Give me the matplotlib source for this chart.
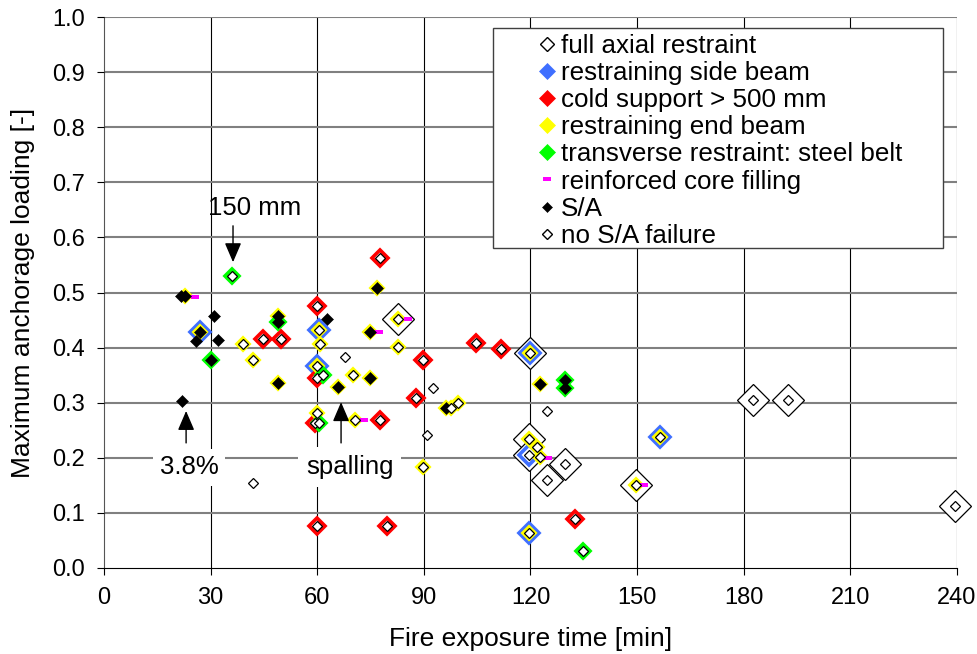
import matplotlib
matplotlib.use("Agg")
import matplotlib.pyplot as plt
from matplotlib.lines import Line2D
from matplotlib.patches import Rectangle

plt.rcParams['font.family'] = ['Liberation Sans', 'DejaVu Sans']
plt.rcParams['font.size'] = 17

# ---------------- data (fire exposure time [min], max anchorage loading [-]) ----
full_axial_x = [82.7, 119.9, 119.7, 119.6, 129.7, 124.7, 149.7, 182.6, 192.5, 239.4]
full_axial_y = [0.452, 0.390, 0.235, 0.205, 0.189, 0.160, 0.151, 0.305, 0.305, 0.113]

side_beam_x = [27.0, 60.5, 59.8, 119.9, 119.6, 156.4, 119.6]
side_beam_y = [0.428, 0.432, 0.366, 0.390, 0.205, 0.238, 0.064]

cold_support_x = [44.7, 49.8, 59.9, 77.7, 59.8, 59.3, 77.7, 87.8, 89.8, 104.7, 111.7, 59.9, 79.6, 132.5]
cold_support_y = [0.415, 0.415, 0.476, 0.562, 0.345, 0.263, 0.269, 0.308, 0.377, 0.408, 0.397, 0.076, 0.076, 0.089]

end_beam_x = [22.8, 27.0, 39.1, 41.9, 49.0, 49.0, 60.5, 60.8, 59.8, 59.9, 76.8, 74.8, 82.7, 82.7,
              65.8, 70.1, 74.8, 70.6, 96.2, 97.6, 99.6, 89.8, 119.9, 122.7, 119.7, 121.7, 122.7,
              149.7, 156.4, 119.6]
end_beam_y = [0.494, 0.428, 0.406, 0.377, 0.457, 0.336, 0.432, 0.406, 0.366, 0.281, 0.508, 0.428, 0.452, 0.401,
              0.329, 0.350, 0.345, 0.269, 0.290, 0.290, 0.299, 0.183, 0.390, 0.334, 0.235, 0.220, 0.202,
              0.151, 0.238, 0.064]

steel_belt_x = [36.0, 30.1, 49.0, 61.6, 60.5, 129.7, 129.7, 134.8]
steel_belt_y = [0.530, 0.377, 0.446, 0.351, 0.263, 0.341, 0.327, 0.031]

core_fill_x = [25.6, 85.5, 77.4, 73.2, 124.9, 151.9]
core_fill_y = [0.492, 0.452, 0.428, 0.269, 0.200, 0.151]

sa_x = [21.7, 22.8, 31.0, 27.0, 25.9, 32.0, 30.1, 21.9, 49.0, 49.0, 49.0, 62.7, 76.8, 74.8,
        65.8, 74.8, 96.2, 122.7, 129.7, 129.7]
sa_y = [0.494, 0.494, 0.457, 0.428, 0.412, 0.413, 0.377, 0.303, 0.457, 0.446, 0.336, 0.452, 0.508, 0.428,
        0.329, 0.345, 0.290, 0.334, 0.341, 0.327]

no_sa_x = [36.0, 39.1, 41.9, 44.7, 49.8, 41.9, 59.9, 77.7, 60.5, 60.8, 59.8, 59.8, 61.6, 67.8, 70.1,
           59.9, 59.3, 60.5, 70.6, 77.7, 82.7, 82.7, 87.8, 89.8, 92.6, 90.9, 89.8, 97.6, 99.6,
           59.9, 79.6, 104.7, 111.7, 119.9, 124.6, 119.7, 119.6, 121.7, 122.7, 129.7, 124.7,
           149.7, 156.4, 132.5, 134.8, 119.6, 182.6, 192.5, 239.4]
no_sa_y = [0.530, 0.406, 0.377, 0.415, 0.415, 0.154, 0.476, 0.562, 0.432, 0.406, 0.366, 0.345, 0.351, 0.383, 0.350,
           0.281, 0.263, 0.263, 0.269, 0.269, 0.452, 0.401, 0.308, 0.377, 0.327, 0.241, 0.183, 0.290, 0.299,
           0.076, 0.076, 0.408, 0.397, 0.390, 0.285, 0.235, 0.205, 0.220, 0.202, 0.189, 0.160,
           0.151, 0.238, 0.089, 0.031, 0.064, 0.305, 0.305, 0.113]

x_ticks = [0, 30, 60, 90, 120, 150, 180, 210, 240]
y_ticks = [0.0, 0.1, 0.2, 0.3, 0.4, 0.5, 0.6, 0.7, 0.8, 0.9, 1.0]
y_tick_labels = ["0.0", "0.1", "0.2", "0.3", "0.4", "0.5", "0.6", "0.7", "0.8", "0.9", "1.0"]

legend_labels = ["full axial restraint", "restraining side beam", "cold support > 500 mm",
                 "restraining end beam", "transverse restraint: steel belt",
                 "reinforced core filling", "S/A", "no S/A failure"]

BLUE = "#3F6FFF"
RED = "#FF0000"
YELLOW = "#FFFF00"
GREEN = "#00FF00"
MAGENTA = "#FF00FF"

# ---------------- figure ----------------
fig = plt.figure(figsize=(9.78, 6.54), dpi=100)
ax = fig.add_axes([104 / 978, (654 - 568) / 654, 853 / 978, 551 / 654])
ax.set_xlim(0, 240)
ax.set_ylim(0, 1.0)

for xv in x_ticks[1:]:
    ax.axvline(xv, color="black", lw=0.8, zorder=1)
for yv in y_ticks[1:]:
    ax.axhline(yv, color="#808080", lw=1.5, zorder=1)

for s in ["top", "right"]:
    ax.spines[s].set_visible(False)
ax.spines["left"].set_color("#555555")
ax.spines["bottom"].set_color("black")
ax.spines["left"].set_zorder(1.5)
ax.spines["bottom"].set_zorder(1.5)

ax.set_xticks(x_ticks)
ax.set_yticks(y_ticks)
ax.set_yticklabels(y_tick_labels)
ax.tick_params(axis="both", direction="out", length=5, width=0.8, color="black", labelsize=17)
ax.tick_params(axis="x", pad=9)
ax.tick_params(axis="y", pad=9)

mk = dict(marker="D", ls="none", clip_on=False)
ax.plot(full_axial_x, full_axial_y, ms=16.4, mfc="white", mec="black", mew=0.9, zorder=3.0, **mk)
ax.plot(side_beam_x, side_beam_y, ms=10.2, mfc="white", mec=BLUE, mew=2.6, zorder=3.1, **mk)
ax.plot(cold_support_x, cold_support_y, ms=8.0, mfc="white", mec=RED, mew=2.6, zorder=3.2, **mk)
ax.plot(end_beam_x, end_beam_y, ms=6.2, mfc="white", mec=YELLOW, mew=2.6, zorder=3.3, **mk)
ax.plot(steel_belt_x, steel_belt_y, ms=6.8, mfc="white", mec=GREEN, mew=2.6, zorder=3.4, **mk)
rect_marker = [(-1, -0.6), (1, -0.6), (1, 0.6), (-1, 0.6)]
ax.plot(core_fill_x, core_fill_y, marker=rect_marker, ls="none", ms=5.8, mfc=MAGENTA, mew=0,
        zorder=3.5, clip_on=False)
ax.plot(sa_x, sa_y, ms=5.8, mfc="black", mec="black", mew=0.4, zorder=3.6, **mk)
ax.plot(no_sa_x, no_sa_y, ms=5.2, mfc="white", mec="black", mew=0.9, zorder=3.7, **mk)

# annotations
ANN_FS = 18.5
arrow = dict(arrowstyle="-|>,head_length=0.7,head_width=0.3", color="black", lw=1, shrinkA=0, shrinkB=0)
ax.annotate("", xy=(36.3, 0.555), xytext=(36.3, 0.621), arrowprops=arrow, zorder=6)
ax.text(42.5, 0.653, "150 mm", ha="center", va="center", fontsize=ANN_FS, zorder=6)
ax.annotate("", xy=(23.1, 0.285), xytext=(23.1, 0.227), arrowprops=arrow, zorder=6)
ax.text(23.9, 0.183, "3.8%", ha="center", va="center", fontsize=ANN_FS,
        bbox=dict(boxstyle="square,pad=0.25", fc="white", ec="none"), zorder=6)
ax.annotate("", xy=(66.7, 0.301), xytext=(66.7, 0.227), arrowprops=arrow, zorder=6)
ax.text(69.2, 0.183, "spalling", ha="center", va="center", fontsize=ANN_FS,
        bbox=dict(boxstyle="square,pad=0.3", fc="white", ec="none"), zorder=6)

ax.set_xlabel("Fire exposure time [min]", fontsize=19)
ax.set_ylabel("Maximum anchorage loading [-]", fontsize=19)
ax.xaxis.set_label_coords(0.5, -0.107)
ax.yaxis.set_label_coords(-0.081, 0.5)

# legend
frame = Rectangle((0.456, 0.581), 0.9836 - 0.456, 0.980 - 0.581, transform=ax.transAxes,
                  fc="white", ec="#404040", lw=1.0, zorder=7, clip_on=False)
ax.add_patch(frame)
handles = [
    Line2D([], [], marker="D", ls="none", ms=7.5, mfc="white", mec="black", mew=1.0),
    Line2D([], [], marker="D", ls="none", ms=8.0, mfc=BLUE, mec=BLUE, mew=0.5),
    Line2D([], [], marker="D", ls="none", ms=8.0, mfc=RED, mec=RED, mew=0.5),
    Line2D([], [], marker="D", ls="none", ms=8.0, mfc=YELLOW, mec=YELLOW, mew=0.5),
    Line2D([], [], marker="D", ls="none", ms=8.0, mfc=GREEN, mec=GREEN, mew=0.5),
    Line2D([], [], marker=rect_marker, ls="none", ms=5.8, mfc=MAGENTA, mew=0),
    Line2D([], [], marker="D", ls="none", ms=5.6, mfc="black", mec="black", mew=0.4),
    Line2D([], [], marker="D", ls="none", ms=5.0, mfc="white", mec="black", mew=1.0),
]
leg = ax.legend(handles, legend_labels, loc="upper left", bbox_to_anchor=((534 - 104) / 853, (568 - 34) / 551),
                frameon=False, borderpad=0, borderaxespad=0, handlelength=1.0, handletextpad=0.05,
                labelspacing=0.12, fontsize=18.7)
leg.set_zorder(8)

fig.savefig("out.png", dpi=100, facecolor="white")
